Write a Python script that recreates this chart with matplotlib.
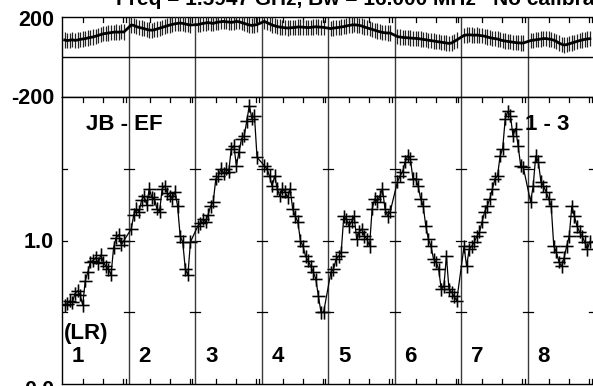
import numpy as np
import matplotlib
matplotlib.use("Agg")
import matplotlib.pyplot as plt

# ---------------- data ----------------
baseline_labels = ["1", "2", "3", "4", "5", "6", "7", "8"]
ytick_phase = ["200", "-200"]
ytick_amp = ["1.0", "0.0"]
title = "Freq = 1.5947 GHz, Bw = 16.000 MHz   No calibration"
pair_label = "JB - EF"
stokes_label = "(LR)"
chan_label = "1 - 3"

amp1 = [0.55, 0.56, 0.58, 0.57, 0.63, 0.65, 0.62, 0.55, 0.72, 0.78, 0.85, 0.86,
        0.88, 0.84, 0.90, 0.85, 0.82, 0.80, 0.76, 0.95, 1.02, 1.04, 0.97, 1.00]
amp2 = [1.08, 1.18, 1.22, 1.20, 1.28, 1.31, 1.25, 1.36, 1.30, 1.29, 1.22, 1.20,
        1.36, 1.38, 1.33, 1.31, 1.29, 1.34, 1.24, 1.03, 0.99, 0.80, 0.76, 0.99]
amp3 = [1.10, 1.12, 1.15, 1.13, 1.18, 1.24, 1.27, 1.43, 1.45, 1.50, 1.47, 1.50,
        1.48, 1.64, 1.66, 1.52, 1.62, 1.71, 1.73, 1.83, 1.94, 1.85, 1.87, 1.58]
amp4 = [1.52, 1.50, 1.45, 1.38, 1.45, 1.36, 1.31, 1.36, 1.34, 1.30, 1.36, 1.22,
        1.17, 1.13, 1.00, 0.96, 0.89, 0.86, 0.82, 0.78, 0.73, 0.61, 0.50, 0.50]
amp5 = [0.78, 0.80, 0.87, 0.89, 0.92, 1.17, 1.15, 1.10, 1.13, 1.17, 1.01, 1.06,
        1.08, 1.03, 1.01, 0.96, 1.22, 1.29, 1.27, 1.31, 1.36, 1.22, 1.17, 1.20]
amp6 = [1.41, 1.45, 1.48, 1.55, 1.59, 1.57, 1.43, 1.43, 1.38, 1.29, 1.24, 1.10,
        1.01, 0.96, 0.87, 0.85, 0.80, 0.66, 0.68, 0.89, 0.66, 0.64, 0.61, 0.58]
amp7 = [0.96, 0.82, 0.94, 0.96, 0.99, 1.03, 1.06, 1.13, 1.20, 1.24, 1.29, 1.36,
        1.43, 1.45, 1.59, 1.64, 1.85, 1.90, 1.87, 1.73, 1.78, 1.66, 1.52, 1.51]
amp8 = [1.27, 1.38, 1.59, 1.55, 1.41, 1.38, 1.34, 1.29, 1.24, 0.96, 0.92, 0.85,
        0.82, 0.88, 0.96, 1.03, 1.24, 1.17, 1.10, 1.06, 1.03, 0.99, 0.94, 0.99]

ph1 = [85, 82, 84, 86, 83, 85, 88, 90, 92, 95, 98, 100,
       104, 108, 112, 116, 118, 120, 122, 124, 125, 124, 126, 125]
ph2 = [160, 158, 152, 148, 145, 142, 138, 135, 134, 136, 140, 144,
       148, 152, 156, 160, 163, 166, 168, 170, 168, 165, 162, 160]
ph3 = [162, 165, 168, 170, 172, 170, 168, 172, 175, 176, 178, 176,
       175, 173, 175, 178, 176, 172, 168, 164, 160, 158, 160, 162]
ph4 = [178, 172, 166, 160, 156, 152, 150, 148, 146, 145, 146, 147,
       148, 150, 150, 149, 148, 147, 148, 150, 151, 150, 149, 148]
ph5 = [142, 145, 146, 148, 150, 152, 155, 158, 160, 161, 160, 158,
       155, 150, 146, 142, 138, 134, 130, 126, 123, 121, 120, 120]
ph6 = [102, 100, 98, 97, 96, 95, 94, 93, 92, 90, 88, 86,
       84, 82, 80, 78, 76, 74, 72, 70, 68, 70, 78, 85]
ph7 = [108, 110, 111, 110, 109, 110, 108, 106, 104, 100, 97, 94,
       92, 90, 86, 82, 80, 78, 76, 74, 72, 71, 70, 70]
ph8 = [82, 84, 86, 88, 90, 92, 92, 90, 88, 84, 78, 70,
       64, 60, 62, 66, 70, 74, 78, 82, 85, 88, 90, 92]

amps = [amp1, amp2, amp3, amp4, amp5, amp6, amp7, amp8]
phases = [ph1, ph2, ph3, ph4, ph5, ph6, ph7, ph8]

# ---------------- layout ----------------
W, H = 593, 386
fig = plt.figure(figsize=(W / 100, H / 100), dpi=100)
FONT = ["Liberation Sans", "DejaVu Sans"]

def fx(px):
    return px / W

def fy(py):
    return 1 - py / H

left_px, right_px = 62, 594.5
ph_top, ph_bot = 17, 97
amp_top, amp_bot = 97, 384

ax_ph = fig.add_axes([fx(left_px), fy(ph_bot), (right_px - left_px) / W, (ph_bot - ph_top) / H])
ax_amp = fig.add_axes([fx(left_px), fy(amp_bot), (right_px - left_px) / W, (amp_bot - amp_top) / H])

npan = len(amps)
t_all, a_all, p_all = [], [], []
for i in range(npan):
    n = len(amps[i])
    t = i + np.linspace(0.04, 0.93, n)
    t_all.extend(t)
    a_all.extend(amps[i])
    p_all.extend(phases[i])
t_all = np.array(t_all)

for ax in (ax_ph, ax_amp):
    ax.set_xlim(0, npan)
    ax.set_xticks([])
    ax.set_yticks([])
    for s in ax.spines.values():
        s.set_linewidth(1.0)
        s.set_color("black")
    for i in range(1, npan):
        ax.axvline(i, color="#3a3a3a", lw=1.0, zorder=1)

ax_ph.set_ylim(-200, 200)
ax_amp.set_ylim(0, 2.0)

# phase panel
ax_ph.axhline(0, color="black", lw=1.0, zorder=1)
ax_ph.errorbar(t_all, p_all, yerr=38, fmt="none", ecolor="#222222", elinewidth=0.9, zorder=3)
ax_ph.plot(t_all, p_all, color="black", lw=2.0, zorder=4)

# amplitude panel
ax_amp.errorbar(t_all, a_all, xerr=0.095, yerr=0.045, fmt="none",
                ecolor="#555555", elinewidth=1.8, alpha=0.55, zorder=3)
ax_amp.errorbar(t_all, a_all, xerr=0.095, yerr=0.045, fmt="none",
                ecolor="black", elinewidth=0.8, zorder=4)
ax_amp.plot(t_all, a_all, color="black", lw=0.9, zorder=5)

# ticks drawn as segments
time_ticks = [0.316, 0.617, 0.917, 0.955]
tl_amp = 5 / (amp_bot - amp_top) * 2.0
tl_ph = 5 / (ph_bot - ph_top) * 400
for i in range(npan):
    for f in time_ticks:
        x = i + f
        ax_amp.plot([x, x], [2.0, 2.0 - tl_amp], color="black", lw=0.9, zorder=2)
        ax_amp.plot([x, x], [0.0, tl_amp], color="black", lw=0.9, zorder=2)
        ax_ph.plot([x, x], [200, 200 - tl_ph], color="black", lw=0.9, zorder=2)
hw = 5 / 66.5
for yv in (0.5, 1.0, 1.5):
    ax_amp.plot([0, hw], [yv, yv], color="black", lw=0.9, zorder=2)
    for i in range(1, npan + 1):
        ax_amp.plot([i - hw, i + hw], [yv, yv], color="black", lw=0.9, zorder=2, clip_on=False)

# ---------------- text ----------------
kw = dict(family=FONT, fontweight="bold", color="black")
fs_tick = 15.5
fs_lab = 16
fig.text(fx(54), fy(20), ytick_phase[0], ha="right", va="center", fontsize=fs_tick, **kw)
fig.text(fx(54), fy(98), ytick_phase[1], ha="right", va="center", fontsize=fs_tick, **kw)
fig.text(fx(54), fy(242), ytick_amp[0], ha="right", va="center", fontsize=fs_tick, **kw)
fig.text(fx(54), fy(391), ytick_amp[1], ha="right", va="center", fontsize=fs_tick, **kw)

fig.text(fx(116), fy(5), title, ha="left", va="baseline", fontsize=15, **kw)
fig.text(fx(86), fy(124), pair_label, ha="left", va="center", fontsize=fs_lab, **kw)
fig.text(fx(525), fy(124), chan_label, ha="left", va="center", fontsize=fs_lab, **kw)
fig.text(fx(64), fy(334), stokes_label, ha="left", va="center", fontsize=fs_lab, **kw)
for i, lab in enumerate(baseline_labels):
    fig.text(fx(left_px + 66.5 * i + 10), fy(356), lab, ha="left", va="center",
             fontsize=fs_lab, **kw)

fig.savefig("out.png", dpi=100)
